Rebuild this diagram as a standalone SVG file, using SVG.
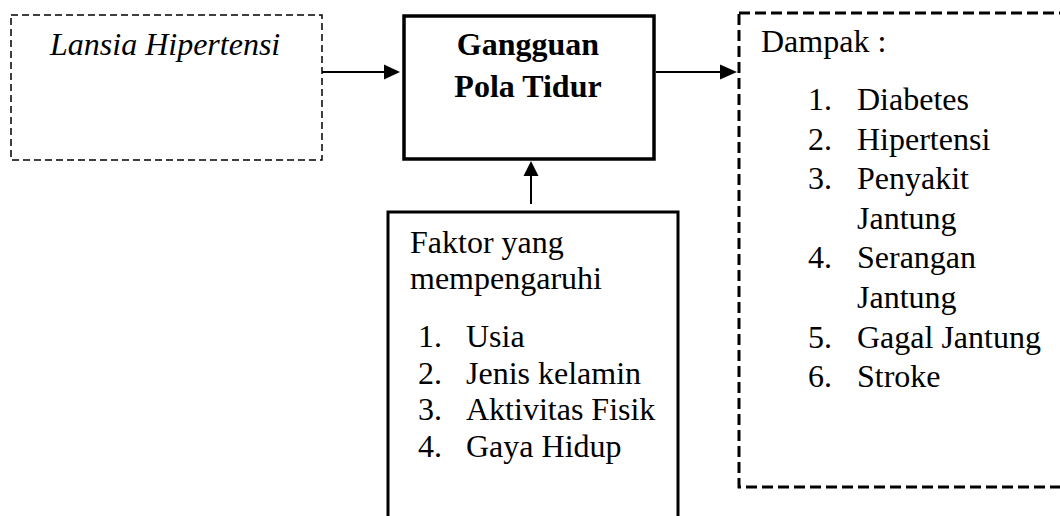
<svg xmlns="http://www.w3.org/2000/svg" width="1060" height="516" viewBox="0 0 1060 516">
<style>
  text { font-family: "Liberation Serif", "Times New Roman", serif; font-size: 32px; fill: #000; }
  .it { font-style: italic; }
  .b { font-weight: bold; }
  .line { stroke: #000; stroke-width: 2; fill: none; }
  .head { fill: #000; }
</style>
<rect width="1060" height="516" fill="#fff"/>
<g id="node-lansia">
  <rect x="11" y="15" width="311" height="145" fill="none" stroke="#000" stroke-width="1.5" stroke-dasharray="7 4"/>
  <text class="it" x="50" y="55">Lansia Hipertensi</text>
</g>
<g id="node-gangguan">
  <rect x="404" y="16" width="250" height="143" fill="none" stroke="#000" stroke-width="3.5"/>
  <text class="b" x="528" y="55" text-anchor="middle">Gangguan</text>
  <text class="b" x="528" y="97" text-anchor="middle">Pola Tidur</text>
</g>
<g id="node-dampak">
  <rect x="739" y="13" width="340" height="474" fill="none" stroke="#000" stroke-width="3" stroke-dasharray="11 5"/>
  <text x="761" y="52">Dampak :</text>
  <text x="808" y="110">1.</text><text x="857" y="110">Diabetes</text>
  <text x="808" y="149.6">2.</text><text x="857" y="149.6">Hipertensi</text>
  <text x="808" y="189.2">3.</text><text x="857" y="189.2">Penyakit</text>
  <text x="857" y="228.8">Jantung</text>
  <text x="808" y="268.4">4.</text><text x="857" y="268.4">Serangan</text>
  <text x="857" y="308">Jantung</text>
  <text x="808" y="347.6">5.</text><text x="857" y="347.6">Gagal Jantung</text>
  <text x="808" y="387.2">6.</text><text x="857" y="387.2">Stroke</text>
</g>
<g id="node-faktor">
  <rect x="388" y="212" width="290" height="340" fill="none" stroke="#000" stroke-width="3"/>
  <text x="410" y="253">Faktor yang</text>
  <text x="410" y="289">mempengaruhi</text>
  <text x="418" y="347">1.</text><text x="466" y="347">Usia</text>
  <text x="418" y="383.5">2.</text><text x="466" y="383.5">Jenis kelamin</text>
  <text x="418" y="420">3.</text><text x="466" y="420">Aktivitas Fisik</text>
  <text x="418" y="456.5">4.</text><text x="466" y="456.5">Gaya Hidup</text>
</g>
<g id="connectors">
  <line class="line" x1="322" y1="72" x2="386" y2="72"/>
  <polygon class="head" points="400,72 384,64.5 384,79.5"/>
  <line class="line" x1="656" y1="72" x2="722" y2="72"/>
  <polygon class="head" points="737,72 720,64.5 720,79.5"/>
  <line class="line" x1="531" y1="204" x2="531" y2="174"/>
  <polygon class="head" points="531,161 523.5,176 538.5,176"/>
</g>
</svg>
